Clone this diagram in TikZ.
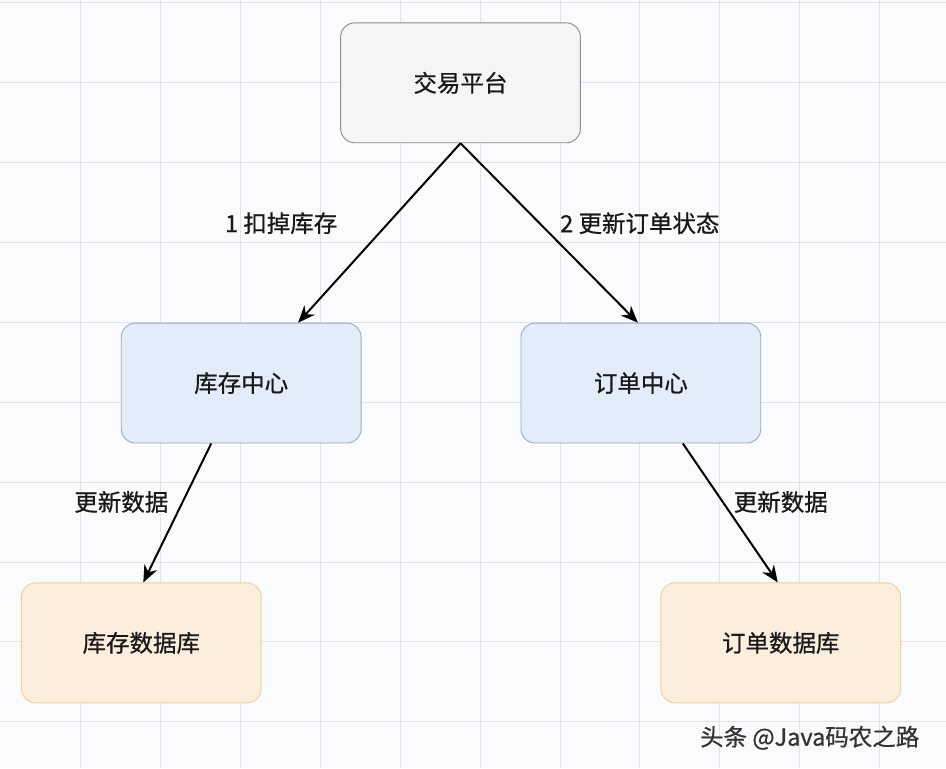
\documentclass[tikz,border=0pt]{standalone}
\usepackage{fontspec}
\setmainfont{Noto Sans CJK SC}[FakeBold=0.7]
\usetikzlibrary{arrows.meta,positioning}
\definecolor{paper}{HTML}{FAFBFD}
\definecolor{gridline}{HTML}{E1E3E9}
\definecolor{grayfill}{HTML}{F5F5F7}
\definecolor{graydraw}{HTML}{8C8C90}
\definecolor{bluefill}{HTML}{E3EDF9}
\definecolor{bluedraw}{HTML}{9DAABA}
\definecolor{orangefill}{HTML}{FCEEDD}
\definecolor{orangedraw}{HTML}{EDD09E}

\begin{document}
\begin{tikzpicture}[
    x = 1pt, y = -1pt,
    > = {Stealth[length=17pt,width=14pt]},
    box/.style={rectangle, rounded corners=14pt, draw, line width=0.9pt,
        minimum width=240pt, minimum height=120pt, text=black!90,
        font=\fontsize{23.5}{27}\selectfont},
    platform/.style={box, fill=grayfill, draw=graydraw},
    center/.style={box, fill=bluefill, draw=bluedraw},
    store/.style={box, fill=orangefill, draw=orangedraw},
    label/.style={font=\fontsize{23.5}{27}\selectfont, text=black!90},
    flow/.style={->, line width=2pt, black}
]
    % background and grid
    \fill[paper] (0,0) rectangle (946,768);
    \foreach \gx in {80,160,...,880}
        \draw[gridline, line width=0.8pt] (\gx,0) -- (\gx,768);
    \foreach \gy in {2,82,...,722}
        \draw[gridline, line width=0.8pt] (0,\gy) -- (946,\gy);

    % boxes
    \node[platform] (trade) at (460.5,82.5) {交易平台};
    \node[center] (stockc) at (241,383) {库存中心};
    \node[center] (orderc) at (641,383) {订单中心};
    \node[store] (stockdb) at (141,643) {库存数据库};
    \node[store] (orderdb) at (781,643) {订单数据库};

    % connectors
    \draw[flow] (trade.south) -- ([xshift=57pt]stockc.north);
    \draw[flow] (trade.south) -- ([xshift=-3pt]orderc.north);
    \draw[flow] ([xshift=-30pt]stockc.south) -- ([xshift=2pt]stockdb.north);
    \draw[flow] ([xshift=42pt]orderc.south) -- ([xshift=-3pt]orderdb.north);

    % labels
    \node[label] (deduct) at (281,223) {1 扣掉库存};
    \node[label] (status) at (640,223) {2 更新订单状态};
    \node[label] (syncl) at (121,502) {更新数据};
    \node[label] (syncr) at (781,502) {更新数据};
    \node[label, text=black!80] (mark) at (810,738) {头条 @Java码农之路};
\end{tikzpicture}
\end{document}
